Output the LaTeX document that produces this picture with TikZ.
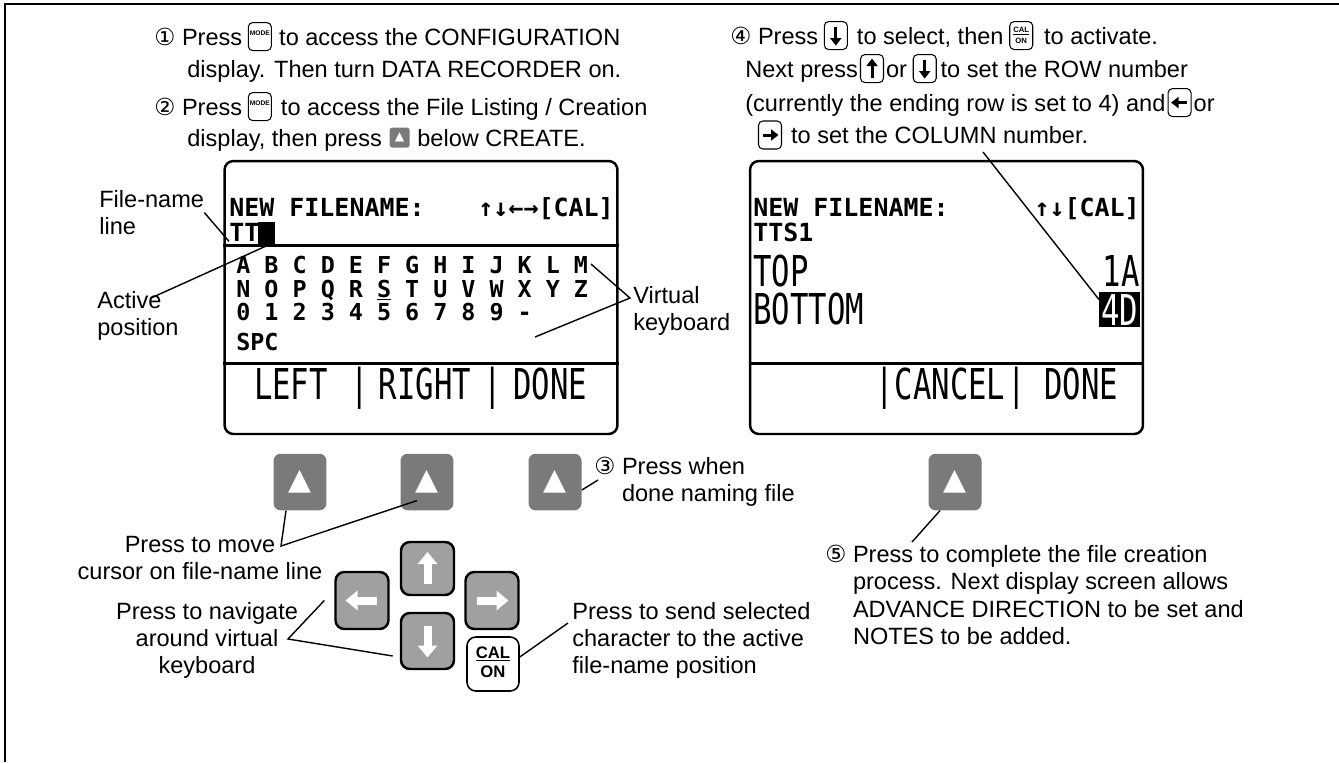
\documentclass[tikz,border=0pt]{standalone}
\usepackage{fontspec}
\usepackage{graphicx}
\setmainfont{Liberation Sans}
\newfontfamily\lcdfont{DejaVu Sans Mono}
\newfontfamily\dejavusym{DejaVu Sans}
\usetikzlibrary{arrows.meta, positioning, calc}
\definecolor{SoftKeyGray}{RGB}{122,122,122}
\definecolor{NavKeyGray}{RGB}{160,160,160}
\newcommand{\mainsz}{\fontsize{13.4}{15.5}\selectfont}
\newcommand{\circnum}[1]{{\dejavusym #1}}
\newcommand{\narrow}[1]{\scalebox{0.72}[1]{#1}}
\newcommand{\modelabel}{\raisebox{0.12cm}{\fontsize{3.8}{4}\selectfont\bfseries MODE}}
\newcommand{\calonlabel}{{\fontsize{4.4}{6.2}\selectfont\bfseries\begin{tabular}{@{}c@{}}\underline{CAL}\\ON\end{tabular}}}

\begin{document}
\begin{tikzpicture}[
    x=0.02cm, y=-0.02cm,
    txt/.style={inner sep=0pt, font=\mainsz, text height=9.6pt, text depth=0pt},
    note/.style={inner sep=0pt, font=\mainsz, align=left},
    screen/.style={draw, line width=1.4pt, rounded corners=5pt,
                   minimum width=7.86cm, minimum height=5.46cm},
    lcd/.style={inner sep=0pt, font=\lcdfont\bfseries\fontsize{14.2}{14.2}\selectfont},
    lcdkb/.style={inner sep=0pt, font=\lcdfont\bfseries\fontsize{13.3}{13.3}\selectfont},
    lcdbig/.style={inner sep=0pt, font=\lcdfont\fontsize{24.2}{24.2}\selectfont,
                   text height=17.6pt, text depth=0pt},
    softkey/.style={fill=SoftKeyGray, rounded corners=4pt, minimum width=1.06cm,
                    minimum height=1.13cm, inner sep=0pt, text=white,
                    font=\dejavusym\fontsize{17}{17}\selectfont},
    navkey/.style={draw, line width=1.4pt, fill=NavKeyGray, rounded corners=5pt,
                   minimum width=1.06cm, minimum height=1.1cm, inner sep=0pt},
    keyicon/.style={draw, line width=0.6pt, rounded corners=2.5pt, fill=white,
                    minimum width=0.46cm, minimum height=0.56cm, inner sep=0pt},
    keyglyph/.style={line width=1.7pt, -{Triangle[length=0.15cm, width=0.22cm]}},
    keyup/.style={keyicon, path picture={\draw[keyglyph]
        ([yshift=-0.18cm]path picture bounding box.center) -- ([yshift=0.2cm]path picture bounding box.center);}},
    keydown/.style={keyicon, path picture={\draw[keyglyph]
        ([yshift=0.18cm]path picture bounding box.center) -- ([yshift=-0.2cm]path picture bounding box.center);}},
    keyleft/.style={keyicon, path picture={\draw[keyglyph]
        ([xshift=0.15cm]path picture bounding box.center) -- ([xshift=-0.17cm]path picture bounding box.center);}},
    keyright/.style={keyicon, path picture={\draw[keyglyph]
        ([xshift=-0.15cm]path picture bounding box.center) -- ([xshift=0.17cm]path picture bounding box.center);}},
    leader/.style={line width=0.8pt},
    navarrow/.style={white, line width=0.16cm, -{Triangle[length=0.24cm, width=0.38cm]}},
]
\useasboundingbox (0,0) rectangle (1339,762);
\draw[line width=1.2pt] (5,762) -- (5,4) -- (1339,4);

% steps 1 and 2
\node[txt, anchor=base west] (s1a) at (154,45) {\circnum{①} Press};
\node[keyicon, right=3pt of s1a] (s1key) {\modelabel};
\node[txt, right=4pt of s1key] (s1b) {to access the CONFIGURATION};
\node[txt, anchor=base west] (s1c) at (187,77) {display. Then turn DATA RECORDER on.};
\node[txt, anchor=base west] (s2a) at (154,115) {\circnum{②} Press};
\node[keyicon, right=3pt of s2a] (s2key) {\modelabel};
\node[txt, right=5pt of s2key] (s2b) {to access the File Listing / Creation};
\node[txt, anchor=base west] (s2c) at (187,146) {display, then press};
\node[softkey, minimum width=0.4cm, minimum height=0.4cm, rounded corners=1.5pt,
      font=\dejavusym\fontsize{7}{7}\selectfont, right=4pt of s2c] (s2soft) {▲};
\node[txt, right=4pt of s2soft] (s2d) {below CREATE.};

% step 4
\node[txt, anchor=base west] (s4a) at (730,44) {\circnum{④} Press};
\node[keydown, right=3pt of s4a] (s4k1) {};
\node[txt, right=5pt of s4k1] (s4b) {to select, then};
\node[keyicon, right=3pt of s4b] (s4k2) {\calonlabel};
\node[txt, right=6pt of s4k2] (s4c) {to activate.};
\node[txt, anchor=base west] (s4d) at (745,77) {Next press};
\node[keyup, right=1pt of s4d] (s4k3) {};
\node[txt, right=1pt of s4k3] (s4e) {or};
\node[keydown, right=3pt of s4e] (s4k4) {};
\node[txt, right=2pt of s4k4] (s4f) {to set the ROW number};
\node[txt, anchor=base west] (s4g) at (745,111) {(currently the ending row is set to 4) and};
\node[keyleft, right=1pt of s4g] (s4k5) {};
\node[txt, right=1pt of s4k5] (s4h) {or};
\node[keyright] (s4k6) at (770,135) {};
\node[txt, right=5pt of s4k6] (s4i) {to set the COLUMN number.};

% left display
\node[screen] (scrL) at (421,297.5) {};
\node[lcd, anchor=base west] (lhead) at (229,216) {NEW FILENAME:};
\node[lcd, anchor=base east] (lkeys) at (614,216) {↑↓←→[CAL]};
\node[lcd, anchor=base west] (ltt) at (229,241) {TT};
\node[fill=black, inner sep=0pt, minimum width=0.34cm, minimum height=0.46cm,
      anchor=north west] (lcur) at (258,222) {};
\draw[line width=1.7pt] (scrL.west |- lcur.south) -- (scrL.east |- lcur.south);
\node[lcdkb, anchor=base west] (kb1) at (236,273) {A B C D E F G H I J K L M};
\node[lcdkb, anchor=base west] (kb2) at (236,297) {N O P Q R \underline{S} T U V W X Y Z};
\node[lcdkb, anchor=base west] (kb3) at (236,320) {0 1 2 3 4 5 6 7 8 9 -};
\node[lcdkb, anchor=base west] (kb4) at (236,350) {SPC};
\coordinate (lsep) at (421,363);
\draw[line width=1.7pt] (scrL.west |- lsep) -- (scrL.east |- lsep);
\node[lcdbig, anchor=base] (lsLeft) at (291,399) {\narrow{LEFT}};
\node[lcdbig, anchor=base] (lsBar1) at (360,399) {\narrow{|}};
\node[lcdbig, anchor=base] (lsRight) at (425,399) {\narrow{RIGHT}};
\node[lcdbig, anchor=base] (lsBar2) at (493,399) {\narrow{|}};
\node[lcdbig, anchor=base] (lsDone) at (550,399) {\narrow{DONE}};

% right display
\node[screen] (scrR) at (946.5,297.5) {};
\node[lcd, anchor=base west] (rhead) at (753,216) {NEW FILENAME:};
\node[lcd, anchor=base east] (rkeys) at (1140,216) {↑↓[CAL]};
\node[lcd, anchor=base west] (rname) at (753,241) {TTS1};
\node[lcdbig, anchor=base west] (rtop) at (753,286) {\narrow{TOP}};
\node[lcdbig, anchor=base west] (rbot) at (753,324) {\narrow{BOTTOM}};
\node[lcdbig, anchor=base east] (rtopv) at (1140,286) {\narrow{1A}};
\node[lcdbig, anchor=base east, fill=black, text=white, inner sep=1pt] (rbotv) at (1140,325) {\narrow{4D}};
\coordinate (rsep) at (946,363);
\draw[line width=1.7pt] (scrR.west |- rsep) -- (scrR.east |- rsep);
\node[lcdbig, anchor=base] (rsBar1) at (885,399) {\narrow{|}};
\node[lcdbig, anchor=base] (rsCancel) at (950,399) {\narrow{CANCEL}};
\node[lcdbig, anchor=base] (rsBar2) at (1017,399) {\narrow{|}};
\node[lcdbig, anchor=base] (rsDone) at (1081,399) {\narrow{DONE}};

% soft keys under the displays
\node[softkey] (btnA) at (300,482) {▲};
\node[softkey] (btnB) at (427,482) {▲};
\node[softkey] (btnC) at (555,482) {▲};
\node[softkey] (btnD) at (955,482) {▲};

% navigation pad
\node[navkey, minimum height=1.06cm] (navU) at (427.5,568.5) {};
\node[navkey, minimum height=1.14cm] (navL) at (362,600.5) {};
\node[navkey, minimum height=1.14cm] (navR) at (492,600.5) {};
\node[navkey, minimum height=1.12cm] (navD) at (427.5,641) {};
\node[draw, line width=0.9pt, rounded corners=5pt, fill=white, minimum width=1.04cm,
      minimum height=1.08cm, inner sep=0pt] (calon)
      at (493,664) {\fontsize{9.5}{11}\selectfont\bfseries\begin{tabular}{@{}c@{}}\underline{CAL}\\ON\end{tabular}};
\draw[navarrow] ([yshift=-0.3cm]navU.center) -- ([yshift=0.33cm]navU.center);
\draw[navarrow] ([yshift=0.3cm]navD.center) -- ([yshift=-0.33cm]navD.center);
\draw[navarrow] ([xshift=0.3cm]navL.center) -- ([xshift=-0.33cm]navL.center);
\draw[navarrow] ([xshift=-0.3cm]navR.center) -- ([xshift=0.33cm]navR.center);

% callouts
\node[note, anchor=north west] (lblFile) at (99,190) {File-name\\line};
\node[note, anchor=north west] (lblAct) at (97,291) {Active\\position};
\node[note, anchor=north west] (lblVk) at (633,286) {Virtual\\keyboard};
\node[note, anchor=north west] (lblDone) at (594,457) {\circnum{③} Press when\\\phantom{\circnum{③} }done naming file};
\node[note, align=center, anchor=north] (lblMove) at (200,536) {Press to move\\cursor on file-name line};
\node[note, align=center, anchor=north] (lblNav) at (207,602) {Press to navigate\\around virtual\\keyboard};
\node[note, anchor=north west] (lblSend) at (572,602) {Press to send selected\\character to the active\\file-name position};
\node[note, anchor=north west] (lblEnd) at (825,545) {\circnum{⑤} Press to complete the file creation\\
  \phantom{\circnum{⑤} }process. Next display screen allows\\
  \phantom{\circnum{⑤} }ADVANCE DIRECTION to be set and\\
  \phantom{\circnum{⑤} }NOTES to be added.};

\coordinate (actTip) at (151,298);
\coordinate (vkTip) at (630,298);
\coordinate (vkUp) at (591,264);
\coordinate (vkLo) at (535,337);
\coordinate (doneTip) at (598,480);
\coordinate (moveTip) at (281,546);
\coordinate (navTip) at (288,639);
\coordinate (sendTip) at (568,623);
\coordinate (colTip) at (983,152);
\coordinate (endTip) at (912,542);

\draw[leader] (lblFile.east) -- (ltt.south west);
\draw[leader] (actTip) -- (lcur.south);
\draw[leader] (vkUp) -- (vkTip) -- (vkLo);
\draw[leader] ([yshift=-0.16cm]btnC.east) -- (doneTip);
\draw[leader] ([xshift=-0.28cm]btnA.south) -- (moveTip) -- ([xshift=-0.2cm,yshift=0.2cm]btnB.south);
\draw[leader] ([xshift=-0.2cm]navL.west) -- (navTip) -- ([xshift=-0.14cm,yshift=-0.3cm]navD.west);
\draw[leader] ([yshift=0.14cm]calon.east) -- (sendTip);
\draw[leader] (colTip) -- ([yshift=-0.15cm]rbotv.north west);
\draw[leader] ([xshift=-0.3cm]btnD.south) -- (endTip);
\end{tikzpicture}
\end{document}
